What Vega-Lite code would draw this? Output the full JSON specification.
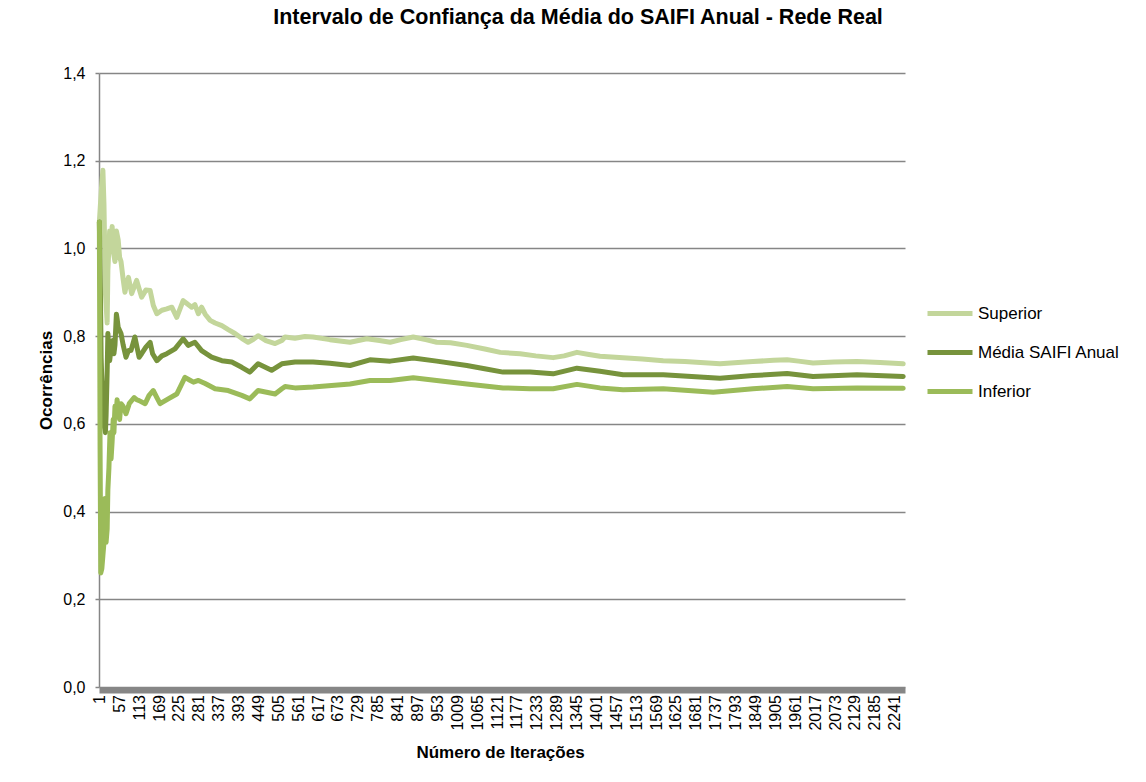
{
  "$schema": "https://vega.github.io/schema/vega-lite/v6.json",
  "width": 806,
  "height": 614,
  "autosize": {"type": "none"},
  "padding": {"left": 99, "top": 73, "right": 241, "bottom": 95},
  "background": "white",
  "config": {
    "view": {"stroke": null},
    "font": "Liberation Sans"
  },
  "title": {
    "text": "Intervalo de Confiança da Média do SAIFI Anual - Rede Real",
    "font": "Liberation Sans",
    "fontSize": 21.5,
    "fontWeight": "bold",
    "color": "#000000",
    "anchor": "middle",
    "frame": "group",
    "dx": 76,
    "baseline": "alphabetic",
    "offset": 20
  },
  "data": {
    "values": [
      {"i": 1, "s": "Superior", "v": 1.06},
      {"i": 4, "s": "Superior", "v": 1.10},
      {"i": 8, "s": "Superior", "v": 1.15},
      {"i": 11, "s": "Superior", "v": 1.178},
      {"i": 14, "s": "Superior", "v": 1.10},
      {"i": 18, "s": "Superior", "v": 0.90},
      {"i": 23, "s": "Superior", "v": 0.83},
      {"i": 25, "s": "Superior", "v": 0.95},
      {"i": 30, "s": "Superior", "v": 1.04},
      {"i": 34, "s": "Superior", "v": 1.00},
      {"i": 37, "s": "Superior", "v": 1.05},
      {"i": 41, "s": "Superior", "v": 0.99},
      {"i": 45, "s": "Superior", "v": 0.97},
      {"i": 49, "s": "Superior", "v": 1.04},
      {"i": 54, "s": "Superior", "v": 1.02},
      {"i": 58, "s": "Superior", "v": 0.98},
      {"i": 62, "s": "Superior", "v": 0.97},
      {"i": 68, "s": "Superior", "v": 0.93},
      {"i": 73, "s": "Superior", "v": 0.90},
      {"i": 78, "s": "Superior", "v": 0.92},
      {"i": 83, "s": "Superior", "v": 0.934},
      {"i": 92, "s": "Superior", "v": 0.897},
      {"i": 106, "s": "Superior", "v": 0.927},
      {"i": 120, "s": "Superior", "v": 0.889},
      {"i": 132, "s": "Superior", "v": 0.905},
      {"i": 144, "s": "Superior", "v": 0.904},
      {"i": 153, "s": "Superior", "v": 0.87},
      {"i": 163, "s": "Superior", "v": 0.851},
      {"i": 177, "s": "Superior", "v": 0.859},
      {"i": 191, "s": "Superior", "v": 0.862},
      {"i": 205, "s": "Superior", "v": 0.866},
      {"i": 219, "s": "Superior", "v": 0.843},
      {"i": 237, "s": "Superior", "v": 0.881},
      {"i": 251, "s": "Superior", "v": 0.872},
      {"i": 261, "s": "Superior", "v": 0.866},
      {"i": 270, "s": "Superior", "v": 0.872},
      {"i": 280, "s": "Superior", "v": 0.851},
      {"i": 289, "s": "Superior", "v": 0.866},
      {"i": 299, "s": "Superior", "v": 0.85},
      {"i": 313, "s": "Superior", "v": 0.836},
      {"i": 327, "s": "Superior", "v": 0.83},
      {"i": 346, "s": "Superior", "v": 0.824},
      {"i": 364, "s": "Superior", "v": 0.815},
      {"i": 383, "s": "Superior", "v": 0.806},
      {"i": 402, "s": "Superior", "v": 0.795},
      {"i": 420, "s": "Superior", "v": 0.786},
      {"i": 435, "s": "Superior", "v": 0.793},
      {"i": 448, "s": "Superior", "v": 0.801},
      {"i": 470, "s": "Superior", "v": 0.79},
      {"i": 496, "s": "Superior", "v": 0.783},
      {"i": 515, "s": "Superior", "v": 0.79},
      {"i": 524, "s": "Superior", "v": 0.798},
      {"i": 552, "s": "Superior", "v": 0.795},
      {"i": 580, "s": "Superior", "v": 0.799},
      {"i": 603, "s": "Superior", "v": 0.798},
      {"i": 650, "s": "Superior", "v": 0.792},
      {"i": 707, "s": "Superior", "v": 0.786},
      {"i": 754, "s": "Superior", "v": 0.794},
      {"i": 790, "s": "Superior", "v": 0.79},
      {"i": 820, "s": "Superior", "v": 0.786},
      {"i": 850, "s": "Superior", "v": 0.792},
      {"i": 885, "s": "Superior", "v": 0.798},
      {"i": 920, "s": "Superior", "v": 0.792},
      {"i": 951, "s": "Superior", "v": 0.786},
      {"i": 990, "s": "Superior", "v": 0.785},
      {"i": 1036, "s": "Superior", "v": 0.779},
      {"i": 1090, "s": "Superior", "v": 0.77},
      {"i": 1130, "s": "Superior", "v": 0.763},
      {"i": 1186, "s": "Superior", "v": 0.76},
      {"i": 1230, "s": "Superior", "v": 0.755},
      {"i": 1279, "s": "Superior", "v": 0.751},
      {"i": 1310, "s": "Superior", "v": 0.755},
      {"i": 1346, "s": "Superior", "v": 0.763},
      {"i": 1380, "s": "Superior", "v": 0.758},
      {"i": 1411, "s": "Superior", "v": 0.754},
      {"i": 1476, "s": "Superior", "v": 0.751},
      {"i": 1530, "s": "Superior", "v": 0.748},
      {"i": 1589, "s": "Superior", "v": 0.744},
      {"i": 1650, "s": "Superior", "v": 0.742},
      {"i": 1749, "s": "Superior", "v": 0.737},
      {"i": 1800, "s": "Superior", "v": 0.74},
      {"i": 1842, "s": "Superior", "v": 0.742},
      {"i": 1900, "s": "Superior", "v": 0.745},
      {"i": 1938, "s": "Superior", "v": 0.746},
      {"i": 1970, "s": "Superior", "v": 0.743},
      {"i": 2011, "s": "Superior", "v": 0.739},
      {"i": 2070, "s": "Superior", "v": 0.741},
      {"i": 2135, "s": "Superior", "v": 0.742},
      {"i": 2200, "s": "Superior", "v": 0.74},
      {"i": 2265, "s": "Superior", "v": 0.737},

      {"i": 1, "s": "Média SAIFI Anual", "v": 1.06},
      {"i": 4, "s": "Média SAIFI Anual", "v": 0.90},
      {"i": 6, "s": "Média SAIFI Anual", "v": 0.75},
      {"i": 8, "s": "Média SAIFI Anual", "v": 0.70},
      {"i": 11, "s": "Média SAIFI Anual", "v": 0.64},
      {"i": 14, "s": "Média SAIFI Anual", "v": 0.60},
      {"i": 18, "s": "Média SAIFI Anual", "v": 0.58},
      {"i": 20, "s": "Média SAIFI Anual", "v": 0.62},
      {"i": 23, "s": "Média SAIFI Anual", "v": 0.72},
      {"i": 25, "s": "Média SAIFI Anual", "v": 0.806},
      {"i": 28, "s": "Média SAIFI Anual", "v": 0.77},
      {"i": 30, "s": "Média SAIFI Anual", "v": 0.744},
      {"i": 34, "s": "Média SAIFI Anual", "v": 0.77},
      {"i": 39, "s": "Média SAIFI Anual", "v": 0.79},
      {"i": 42, "s": "Média SAIFI Anual", "v": 0.76},
      {"i": 45, "s": "Média SAIFI Anual", "v": 0.78},
      {"i": 49, "s": "Média SAIFI Anual", "v": 0.85},
      {"i": 51, "s": "Média SAIFI Anual", "v": 0.84},
      {"i": 54, "s": "Média SAIFI Anual", "v": 0.82},
      {"i": 62, "s": "Média SAIFI Anual", "v": 0.806},
      {"i": 68, "s": "Média SAIFI Anual", "v": 0.78},
      {"i": 76, "s": "Média SAIFI Anual", "v": 0.752},
      {"i": 83, "s": "Média SAIFI Anual", "v": 0.767},
      {"i": 90, "s": "Média SAIFI Anual", "v": 0.767},
      {"i": 101, "s": "Média SAIFI Anual", "v": 0.798},
      {"i": 113, "s": "Média SAIFI Anual", "v": 0.752},
      {"i": 120, "s": "Média SAIFI Anual", "v": 0.76},
      {"i": 132, "s": "Média SAIFI Anual", "v": 0.775},
      {"i": 144, "s": "Média SAIFI Anual", "v": 0.786},
      {"i": 151, "s": "Média SAIFI Anual", "v": 0.76},
      {"i": 163, "s": "Média SAIFI Anual", "v": 0.744},
      {"i": 177, "s": "Média SAIFI Anual", "v": 0.755},
      {"i": 191, "s": "Média SAIFI Anual", "v": 0.76},
      {"i": 214, "s": "Média SAIFI Anual", "v": 0.771},
      {"i": 237, "s": "Média SAIFI Anual", "v": 0.794},
      {"i": 251, "s": "Média SAIFI Anual", "v": 0.779},
      {"i": 270, "s": "Média SAIFI Anual", "v": 0.786},
      {"i": 289, "s": "Média SAIFI Anual", "v": 0.767},
      {"i": 317, "s": "Média SAIFI Anual", "v": 0.752},
      {"i": 346, "s": "Média SAIFI Anual", "v": 0.744},
      {"i": 374, "s": "Média SAIFI Anual", "v": 0.741},
      {"i": 402, "s": "Média SAIFI Anual", "v": 0.729},
      {"i": 425, "s": "Média SAIFI Anual", "v": 0.718},
      {"i": 448, "s": "Média SAIFI Anual", "v": 0.737},
      {"i": 486, "s": "Média SAIFI Anual", "v": 0.722},
      {"i": 515, "s": "Média SAIFI Anual", "v": 0.737},
      {"i": 552, "s": "Média SAIFI Anual", "v": 0.741},
      {"i": 603, "s": "Média SAIFI Anual", "v": 0.741},
      {"i": 650, "s": "Média SAIFI Anual", "v": 0.738},
      {"i": 707, "s": "Média SAIFI Anual", "v": 0.733},
      {"i": 763, "s": "Média SAIFI Anual", "v": 0.746},
      {"i": 820, "s": "Média SAIFI Anual", "v": 0.743},
      {"i": 885, "s": "Média SAIFI Anual", "v": 0.75},
      {"i": 951, "s": "Média SAIFI Anual", "v": 0.743},
      {"i": 1036, "s": "Média SAIFI Anual", "v": 0.733},
      {"i": 1090, "s": "Média SAIFI Anual", "v": 0.725},
      {"i": 1138, "s": "Média SAIFI Anual", "v": 0.718},
      {"i": 1214, "s": "Média SAIFI Anual", "v": 0.718},
      {"i": 1279, "s": "Média SAIFI Anual", "v": 0.714},
      {"i": 1346, "s": "Média SAIFI Anual", "v": 0.727},
      {"i": 1411, "s": "Média SAIFI Anual", "v": 0.72},
      {"i": 1476, "s": "Média SAIFI Anual", "v": 0.712},
      {"i": 1589, "s": "Média SAIFI Anual", "v": 0.712},
      {"i": 1749, "s": "Média SAIFI Anual", "v": 0.704},
      {"i": 1842, "s": "Média SAIFI Anual", "v": 0.71},
      {"i": 1938, "s": "Média SAIFI Anual", "v": 0.715},
      {"i": 2011, "s": "Média SAIFI Anual", "v": 0.708},
      {"i": 2135, "s": "Média SAIFI Anual", "v": 0.712},
      {"i": 2265, "s": "Média SAIFI Anual", "v": 0.708},

      {"i": 1, "s": "Inferior", "v": 1.06},
      {"i": 3, "s": "Inferior", "v": 0.55},
      {"i": 5, "s": "Inferior", "v": 0.26},
      {"i": 8, "s": "Inferior", "v": 0.27},
      {"i": 11, "s": "Inferior", "v": 0.30},
      {"i": 14, "s": "Inferior", "v": 0.33},
      {"i": 17, "s": "Inferior", "v": 0.43},
      {"i": 20, "s": "Inferior", "v": 0.33},
      {"i": 23, "s": "Inferior", "v": 0.36},
      {"i": 25, "s": "Inferior", "v": 0.45},
      {"i": 28, "s": "Inferior", "v": 0.50},
      {"i": 31, "s": "Inferior", "v": 0.58},
      {"i": 34, "s": "Inferior", "v": 0.52},
      {"i": 37, "s": "Inferior", "v": 0.56},
      {"i": 40, "s": "Inferior", "v": 0.61},
      {"i": 42, "s": "Inferior", "v": 0.58},
      {"i": 45, "s": "Inferior", "v": 0.64},
      {"i": 48, "s": "Inferior", "v": 0.62},
      {"i": 51, "s": "Inferior", "v": 0.655},
      {"i": 54, "s": "Inferior", "v": 0.63},
      {"i": 58, "s": "Inferior", "v": 0.61},
      {"i": 62, "s": "Inferior", "v": 0.646},
      {"i": 68, "s": "Inferior", "v": 0.64},
      {"i": 76, "s": "Inferior", "v": 0.623},
      {"i": 83, "s": "Inferior", "v": 0.64},
      {"i": 85, "s": "Inferior", "v": 0.646},
      {"i": 99, "s": "Inferior", "v": 0.66},
      {"i": 106, "s": "Inferior", "v": 0.655},
      {"i": 113, "s": "Inferior", "v": 0.653},
      {"i": 130, "s": "Inferior", "v": 0.646},
      {"i": 141, "s": "Inferior", "v": 0.665},
      {"i": 153, "s": "Inferior", "v": 0.676},
      {"i": 163, "s": "Inferior", "v": 0.66},
      {"i": 172, "s": "Inferior", "v": 0.646},
      {"i": 195, "s": "Inferior", "v": 0.657},
      {"i": 219, "s": "Inferior", "v": 0.668},
      {"i": 242, "s": "Inferior", "v": 0.706},
      {"i": 255, "s": "Inferior", "v": 0.70},
      {"i": 266, "s": "Inferior", "v": 0.695},
      {"i": 280, "s": "Inferior", "v": 0.699},
      {"i": 299, "s": "Inferior", "v": 0.692},
      {"i": 327, "s": "Inferior", "v": 0.68},
      {"i": 364, "s": "Inferior", "v": 0.676},
      {"i": 402, "s": "Inferior", "v": 0.665},
      {"i": 425, "s": "Inferior", "v": 0.657},
      {"i": 448, "s": "Inferior", "v": 0.676},
      {"i": 496, "s": "Inferior", "v": 0.668},
      {"i": 515, "s": "Inferior", "v": 0.68},
      {"i": 524, "s": "Inferior", "v": 0.685},
      {"i": 552, "s": "Inferior", "v": 0.682},
      {"i": 603, "s": "Inferior", "v": 0.684},
      {"i": 707, "s": "Inferior", "v": 0.691},
      {"i": 763, "s": "Inferior", "v": 0.699},
      {"i": 820, "s": "Inferior", "v": 0.699},
      {"i": 885, "s": "Inferior", "v": 0.705},
      {"i": 951, "s": "Inferior", "v": 0.699},
      {"i": 1036, "s": "Inferior", "v": 0.691},
      {"i": 1138, "s": "Inferior", "v": 0.682},
      {"i": 1214, "s": "Inferior", "v": 0.68},
      {"i": 1279, "s": "Inferior", "v": 0.68},
      {"i": 1346, "s": "Inferior", "v": 0.69},
      {"i": 1411, "s": "Inferior", "v": 0.682},
      {"i": 1476, "s": "Inferior", "v": 0.678},
      {"i": 1589, "s": "Inferior", "v": 0.68},
      {"i": 1730, "s": "Inferior", "v": 0.672},
      {"i": 1842, "s": "Inferior", "v": 0.68},
      {"i": 1938, "s": "Inferior", "v": 0.685},
      {"i": 2011, "s": "Inferior", "v": 0.68},
      {"i": 2135, "s": "Inferior", "v": 0.682},
      {"i": 2265, "s": "Inferior", "v": 0.681}
    ]
  },
  "encoding": {
    "x": {
      "field": "i",
      "type": "quantitative",
      "scale": {"domain": [0, 2270], "nice": false, "zero": false},
      "axis": {
        "title": "Número de Iterações",
        "titleFont": "Liberation Sans",
        "titleFontSize": 17,
        "titleFontWeight": "bold",
        "titleColor": "#000000",
        "titleBaseline": "alphabetic",
        "titleX": 401,
        "titleY": 67.5,
        "values": [1, 57, 113, 169, 225, 281, 337, 393, 449, 505, 561, 617, 673, 729, 785, 841, 897, 953, 1009, 1065, 1121, 1177, 1233, 1289, 1345, 1401, 1457, 1513, 1569, 1625, 1681, 1737, 1793, 1849, 1905, 1961, 2017, 2073, 2129, 2185, 2241],
        "format": "d",
        "labelAngle": -90,
        "labelAlign": "right",
        "labelBaseline": "middle",
        "labelFont": "Liberation Sans",
        "labelFontSize": 16,
        "labelColor": "#000000",
        "labelPadding": 4.5,
        "labelOverlap": false,
        "labelFlush": false,
        "ticks": false,
        "grid": false,
        "domain": true,
        "domainColor": "#868686",
        "domainWidth": 6,
        "offset": 3
      }
    },
    "y": {
      "field": "v",
      "type": "quantitative",
      "scale": {"domain": [0, 1.4], "nice": false, "zero": true},
      "axis": {
        "title": "Ocorrências",
        "titleFont": "Liberation Sans",
        "titleFontSize": 17,
        "titleFontWeight": "bold",
        "titleColor": "#000000",
        "titleBaseline": "alphabetic",
        "titleAngle": -90,
        "titleX": -48,
        "titleY": 307,
        "values": [0, 0.2, 0.4, 0.6, 0.8, 1.0, 1.2, 1.4],
        "labelExpr": "replace(format(datum.value, '.1f'), '.', ',')",
        "labelFont": "Liberation Sans",
        "labelFontSize": 16,
        "labelColor": "#000000",
        "labelPadding": 10,
        "tickSize": 4,
        "tickColor": "#868686",
        "tickWidth": 1.5,
        "grid": true,
        "gridColor": "#868686",
        "gridWidth": 1.5,
        "domain": true,
        "domainColor": "#868686",
        "domainWidth": 1.5
      }
    },
    "color": {
      "field": "s",
      "type": "nominal",
      "scale": {
        "domain": ["Superior", "Média SAIFI Anual", "Inferior"],
        "range": ["#C3D69B", "#77933C", "#9BBB59"]
      },
      "legend": {
        "orient": "none",
        "legendX": 826,
        "legendY": 215.5,
        "title": null,
        "symbolType": "stroke",
        "symbolSize": 2025,
        "symbolStrokeWidth": 5,
        "labelFont": "Liberation Sans",
        "labelFontSize": 17,
        "labelColor": "#000000",
        "labelOffset": 3,
        "rowPadding": 4,
        "padding": 0,
        "symbolLimit": 0
      }
    }
  },
  "layer": [
    {
      "transform": [{"filter": "datum.s == 'Superior'"}],
      "mark": {"type": "line", "strokeWidth": 5, "strokeJoin": "round", "strokeCap": "round"}
    },
    {
      "transform": [{"filter": "datum.s == 'Média SAIFI Anual'"}],
      "mark": {"type": "line", "strokeWidth": 5, "strokeJoin": "round", "strokeCap": "round"}
    },
    {
      "transform": [{"filter": "datum.s == 'Inferior'"}],
      "mark": {"type": "line", "strokeWidth": 5, "strokeJoin": "round", "strokeCap": "round"}
    }
  ]
}
